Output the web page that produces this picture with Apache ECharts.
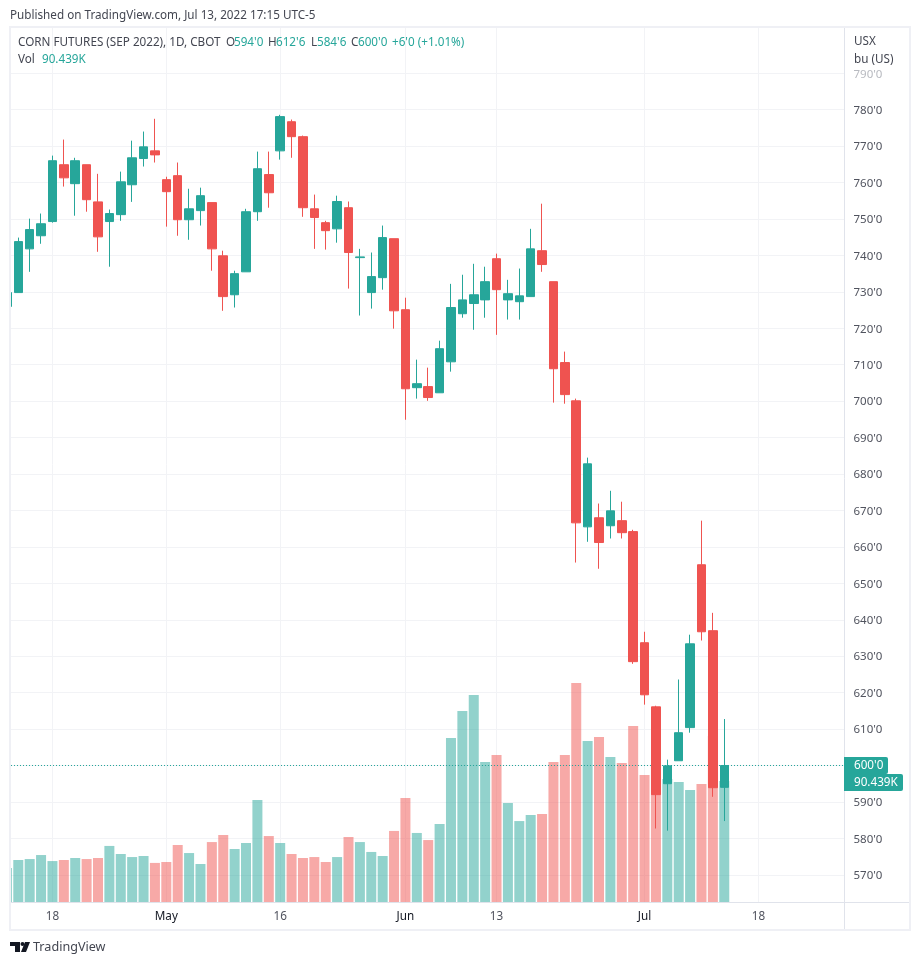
<!DOCTYPE html>
<html>
<head>
<meta charset="utf-8">
<title>Corn futures</title>
<script src="https://cdn.jsdelivr.net/npm/echarts@6/dist/echarts.min.js"></script>
<style>
  html, body { margin: 0; padding: 0; background: #fff; }
  #chart { width: 920px; height: 965px; }
</style>
</head>
<body>
<div id="chart"></div>
<script>
// dates of the daily bars, 11 Apr - 13 Jul 2022 (index = position on the x axis)
var dates = ['Apr 11','Apr 12','Apr 13','Apr 14','Apr 18','Apr 19','Apr 20','Apr 21','Apr 22','Apr 25','Apr 26','Apr 27','Apr 28','Apr 29',
  'May 2','May 3','May 4','May 5','May 6','May 9','May 10','May 11','May 12','May 13','May 16','May 17','May 18','May 19','May 20',
  'May 23','May 24','May 25','May 26','May 27','May 31','Jun 1','Jun 2','Jun 3','Jun 6','Jun 7','Jun 8','Jun 9','Jun 10',
  'Jun 13','Jun 14','Jun 15','Jun 16','Jun 17','Jun 21','Jun 22','Jun 23','Jun 24','Jun 27','Jun 28','Jun 29','Jun 30',
  'Jul 1','Jul 5','Jul 6','Jul 7','Jul 8','Jul 11','Jul 12','Jul 13'];

var opens = [726,729.8,741.8,745.4,749.3,764.9,759.7,764.9,754.7,749.3,751.2,759.4,766.6,768.7,
  760.8,761.9,749.8,752.3,754.5,739.9,729.2,735.5,752,762.2,768.7,776.7,772.6,752.8,749,
  747.3,753.1,739.4,729.8,733.9,744.6,725.1,703.7,704,702.3,710.8,724,726.8,727.8,
  739.1,727.8,727.3,728.7,741.3,732.8,710.6,700.1,665.5,668,665.8,667.2,664.2,
  633.7,616.1,595,601.3,610.4,655.1,637,594];
var highs = [731,744.9,750.1,751.5,767.4,771.8,766.8,764.9,762.4,752.6,763,771.5,774,777.5,
  761.6,765.5,758.3,758.6,754.5,741.3,735.8,752.8,768.5,768.5,778.6,777.3,772.9,756.7,749.5,
  756.4,754.8,741.8,740.8,748.2,744.6,728.4,711.4,709.2,716.6,732.2,734.7,737.7,736.9,
  740.5,733.3,736.4,747.3,754.2,732.8,713.6,700.7,684.5,671.9,675.4,672.4,664.7,
  636.7,616.4,601.6,623.6,635.9,667.2,641.9,612.75];
var lows = [724,729.8,735.5,743.2,749,758.9,750.9,752,741,736.9,749.5,754.7,764.4,765.5,
  747.9,745.4,744.3,748.2,735.8,724.8,725.7,735.5,749.5,753.1,766.3,766.8,750.6,741.8,741.6,
  743.5,730.9,723.5,725.4,730.6,719.9,694.9,700.7,700.1,702.3,708.1,722.9,719.6,722.9,
  718.2,722.4,722.4,728.7,735.5,699.6,699.3,655.7,661.4,654,662.3,662.3,627.9,
  616.7,582.7,582.1,601.3,609,634.3,591.4,584.75];
var closes = [729.8,743.8,747.1,748.7,766,761.3,766,755.3,745.1,751.5,760.2,766.8,769.8,767.6,
  757.5,749.8,752.8,756.4,741.8,728.7,735,752,763.8,757.2,778.1,772.6,753.1,750.4,746.8,
  754.8,740.8,739.6,734.2,744.9,724.8,703.4,704.8,701,714.4,725.7,727.8,729.2,732.8,
  730.6,729.5,728.9,741.8,737.5,708.9,701.8,666.6,682.8,661.2,669.9,663.9,628.5,
  619.4,592,599.9,609,633.4,636.7,593.9,600];
// volume, thousands of contracts
var volumes = [25.4,31.4,32.1,35.1,30.6,31.4,32.9,32.1,32.9,41.9,35.9,33.6,34.4,29.2,
  29.9,42.6,36.6,28.4,44.8,50.1,39.6,44.1,76.2,49.3,44.1,35.9,32.9,33.6,29.9,
  33.6,48.6,44.8,37.4,34.4,53.1,77.7,51.6,46.3,58.3,122.6,142.8,154.7,104.6,
  109.9,74,60.5,65,65.8,104.6,109.9,163.7,120.3,123.3,108.4,103.9,131.5,
  94.9,101.7,91.9,89.7,83.7,88.2,124.1,90.439];

// x axis labels, index into dates (66 = Jul 18, after the last bar)
var timeTicks = [4, 14, 24, 35, 43, 56, 66];
var timeLabels = ['18', 'May', '16', 'Jun', '13', 'Jul', '18'];
var priceTicks = [570,580,590,600,610,620,630,640,650,660,670,680,690,700,710,720,730,740,750,760,770,780,790];

var upColor = '#26a69a';
var downColor = '#ef5350';
var upVolColor = 'rgba(38,166,154,0.5)';
var downVolColor = 'rgba(239,83,80,0.5)';
var gridColor = '#f2f3f6';
var sepColor = '#e0e3eb';
var textColor = '#50535e';
var fontName = '"Noto Sans", sans-serif';
var xMin = 0.36;
var xMax = 73.56;

var candleData = [];
var volumeData = [];
for (var i = 0; i < closes.length; i++) {
  candleData.push([i, opens[i], closes[i], lows[i], highs[i]]);
  volumeData.push({
    value: [i, volumes[i]],
    itemStyle: { color: closes[i] >= opens[i] ? upVolColor : downVolColor }
  });
}
var last = closes.length - 1;

function priceLabel(v) {
  return v + "'0";
}

var chart = echarts.init(document.getElementById('chart'));

chart.setOption({
  animation: false,
  backgroundColor: '#fff',
  grid: { left: 11, top: 27, width: 833.5, height: 875, containLabel: false },
  xAxis: {
    type: 'value',
    min: xMin,
    max: xMax,
    axisLine: { show: false },
    axisTick: { show: false, customValues: timeTicks },
    splitLine: { show: true, lineStyle: { color: gridColor } },
    axisLabel: {
      customValues: timeTicks,
      margin: 9,
      formatter: function (v) {
        var t = timeLabels[timeTicks.indexOf(v)];
        return isNaN(+t) ? '{month|' + t + '}' : t;
      },
      color: textColor,
      fontFamily: fontName,
      fontSize: 11.7,
      rich: { month: { color: '#131722', fontFamily: fontName, fontSize: 11.7 } }
    }
  },
  yAxis: [{
    type: 'value',
    position: 'right',
    min: 562.53,
    max: 802.7,
    axisLine: { show: false },
    axisTick: { show: false, customValues: priceTicks },
    splitLine: { show: true, lineStyle: { color: gridColor } },
    axisLabel: {
      customValues: priceTicks,
      margin: 9,
      padding: [2, 0, 0, 0],
      color: textColor,
      fontFamily: fontName,
      fontSize: 11.5,
      formatter: function (v) {
        // top label sits under the currency caption and is faded out
        return v === 790 ? '{faded|' + priceLabel(v) + '}' : priceLabel(v);
      },
      rich: { faded: { color: '#b8bac0', fontFamily: fontName, fontSize: 11.5 } }
    }
  }, {
    type: 'value',
    show: false,
    min: 0,
    max: 654
  }],
  series: [{
    name: 'Vol',
    type: 'bar',
    yAxisIndex: 1,
    barWidth: 10,
    z: 2,
    data: volumeData
  }, {
    name: 'Last',
    type: 'line',
    yAxisIndex: 0,
    z: 3,
    symbol: 'none',
    silent: true,
    lineStyle: { color: upColor, width: 1, type: [1, 2] },
    data: [[xMin, closes[last]], [xMax, closes[last]]]
  }, {
    name: 'Corn',
    type: 'candlestick',
    yAxisIndex: 0,
    barWidth: 9,
    z: 4,
    itemStyle: {
      color: upColor,
      color0: downColor,
      borderColor: upColor,
      borderColor0: downColor,
      borderWidth: 1
    },
    data: candleData
  }]
});

// header, footer, frame and the last value tags
function label(txt, x, y, color, size) {
  return {
    type: 'text', z: 50,
    style: { text: txt, x: x, y: y, fill: color, font: (size || 11.7) + 'px ' + fontName, textVerticalAlign: 'middle' }
  };
}
function line(x1, y1, x2, y2, color, w) {
  return { type: 'line', z: 40, shape: { x1: x1, y1: y1, x2: x2, y2: y2 }, style: { stroke: color, lineWidth: w || 1 } };
}
function tag(txt, y, w) {
  return [
    { type: 'rect', z: 60, shape: { x: 844, y: y, width: w, height: 17, r: [0, 2, 2, 0] }, style: { fill: upColor } },
    { type: 'text', z: 61, style: { text: txt, x: 854, y: y + 8.5, fill: '#fff', font: '11.7px ' + fontName, textVerticalAlign: 'middle' } }
  ];
}

var priceY = chart.convertToPixel({ yAxisIndex: 0 }, closes[last]) - 8.5;
var volY = Math.max(priceY + 17, chart.convertToPixel({ yAxisIndex: 1 }, volumes[last]) - 8.5);

var elements = [
  // the first bar starts left of the frame, white strip hides that part
  { type: 'rect', z: 38, shape: { x: 0, y: 28, width: 10, height: 902 }, style: { fill: '#fff' } },
  { type: 'rect', z: 39, shape: { x: 10, y: 27, width: 900, height: 903 }, style: { fill: 'none', stroke: '#eff0f5', lineWidth: 2 } },
  line(844.5, 28, 844.5, 929, sepColor),
  line(11, 902.5, 909, 902.5, sepColor),
  label('Published on TradingView.com, Jul 13, 2022 17:15 UTC-5', 10, 15.5, '#434651'),
  label('CORN FUTURES (SEP 2022), 1D, CBOT', 18, 42.5, '#434651'),
  label('O', 226, 42.5, '#434651'),
  label("594'0", 234, 42.5, upColor),
  label('H', 268, 42.5, '#434651'),
  label("612'6", 276, 42.5, upColor),
  label('L', 311, 42.5, '#434651'),
  label("584'6", 317, 42.5, upColor),
  label('C', 351, 42.5, '#434651'),
  label("600'0", 358, 42.5, upColor),
  label("+6'0 (+1.01%)", 392, 42.5, upColor),
  label('Vol', 18, 59.5, '#434651'),
  label('90.439K', 42, 59.5, upColor),
  label('USX', 854, 41.5, '#434651'),
  label('bu (US)', 854, 59.5, '#434651'),
  label('TradingView', 33, 947.5, '#434651', 12.6),
  { type: 'rect', z: 50, shape: { x: 10, y: 942, width: 10, height: 4 }, style: { fill: '#131722' } },
  { type: 'rect', z: 50, shape: { x: 15, y: 942, width: 5, height: 10 }, style: { fill: '#131722' } },
  { type: 'circle', z: 50, shape: { cx: 22.5, cy: 944, r: 2 }, style: { fill: '#131722' } },
  { type: 'polygon', z: 50, shape: { points: [[25, 942], [30, 942], [26, 952], [21, 952]] }, style: { fill: '#131722' } }
];
elements = elements.concat(tag(priceLabel(closes[last]), priceY, 44), tag('90.439K', volY, 59));

chart.setOption({ graphic: { elements: elements } });
</script>
</body>
</html>
